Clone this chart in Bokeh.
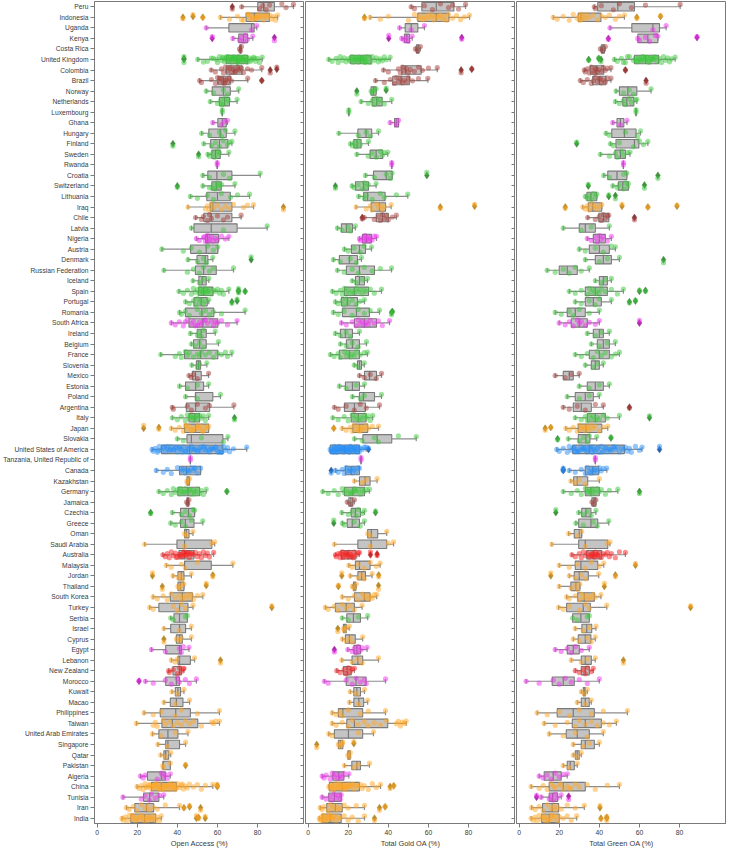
from bokeh.plotting import figure
from bokeh.layouts import row
from bokeh.models import Range1d, FixedTicker, LinearAxis, ColumnDataSource
from bokeh.embed import file_html
from bokeh.resources import INLINE

COUNTRIES = ["Peru", "Indonesia", "Uganda", "Kenya", "Costa Rica", "United Kingdom", "Colombia", "Brazil",
             "Norway", "Netherlands", "Luxembourg", "Ghana", "Hungary", "Finland", "Sweden", "Rwanda",
             "Croatia", "Switzerland", "Lithuania", "Iraq", "Chile", "Latvia", "Nigeria", "Austria",
             "Denmark", "Russian Federation", "Iceland", "Spain", "Portugal", "Romania", "South Africa",
             "Ireland", "Belgium", "France", "Slovenia", "Mexico", "Estonia", "Poland", "Argentina",
             "Italy", "Japan", "Slovakia", "United States of America", "Tanzania, United Republic of",
             "Canada", "Kazakhstan", "Germany", "Jamaica", "Czechia", "Greece", "Oman", "Saudi Arabia",
             "Australia", "Malaysia", "Jordan", "Thailand", "South Korea", "Turkey", "Serbia", "Israel",
             "Cyprus", "Egypt", "Lebanon", "New Zealand", "Morocco", "Kuwait", "Macao", "Philippines",
             "Taiwan", "United Arab Emirates", "Singapore", "Qatar", "Pakistan", "Algeria", "China",
             "Tunisia", "Iran", "India"]

REGION = ["LA", "AS", "AF", "AF", "LA", "EU", "LA", "LA",
          "EU", "EU", "EU", "AF", "EU", "EU", "EU", "AF",
          "EU", "EU", "EU", "AS", "LA", "EU", "AF", "EU",
          "EU", "EU", "EU", "EU", "EU", "EU", "AF",
          "EU", "EU", "EU", "EU", "LA", "EU", "EU", "LA",
          "EU", "AS", "EU", "NA", "AF",
          "NA", "AS", "EU", "LA", "EU", "EU", "AS", "AS",
          "OC", "AS", "AS", "AS", "AS", "AS", "EU", "AS",
          "AS", "AF", "AS", "OC", "AF", "AS", "AS", "AS",
          "AS", "AS", "AS", "AS", "AS", "AF", "AS",
          "AF", "AS", "AS"]

# ---------------- Open Access (%) ----------------
# (lower whisker, q1, median, q3, upper whisker)
OA_BOX = [(72.1, 80.1, 83.0, 88.4, 97.9), (61.5, 74.3, 78.5, 85.9, 90.0), (54.4, 65.7, 77.0, 78.3, 79.6),
          (67.7, 70.6, 73.0, 75.1, 77.6), (71.0, 71.2, 71.5, 71.8, 72.0), (50.2, 64.4, 69.7, 75.1, 82.3),
          (56.9, 64.4, 68.2, 72.3, 82.1), (51.1, 60.2, 63.0, 66.4, 75.1), (54.4, 57.4, 63.0, 66.4, 70.6),
          (56.4, 61.0, 63.5, 66.0, 69.8), (62.4, 62.4, 62.4, 62.4, 62.4), (57.7, 60.2, 62.4, 64.4, 65.0),
          (52.1, 55.7, 61.4, 64.4, 68.7), (53.2, 56.6, 61.0, 65.2, 67.2), (55.2, 57.2, 59.0, 61.4, 65.7),
          (59.9, 59.9, 59.9, 59.9, 59.9), (52.7, 55.2, 59.7, 67.2, 81.3), (52.7, 57.2, 59.4, 61.9, 68.7),
          (46.5, 54.7, 60.0, 66.4, 76.0), (45.3, 56.4, 57.7, 67.2, 78.0), (49.1, 53.2, 56.9, 67.2, 71.8),
          (47.0, 48.3, 56.9, 69.8, 84.8), (49.5, 54.1, 55.0, 60.5, 65.7), (32.3, 46.6, 54.4, 60.2, 60.2),
          (45.3, 49.8, 53.9, 55.2, 57.7), (33.3, 49.0, 53.1, 59.4, 68.0), (47.8, 50.7, 52.4, 54.4, 55.7),
          (40.8, 50.6, 53.1, 57.7, 65.7), (44.1, 48.3, 51.9, 54.9, 55.7), (41.1, 44.0, 52.2, 58.2, 73.8),
          (37.0, 45.8, 52.7, 60.2, 69.8), (46.5, 49.9, 51.9, 54.4, 58.9), (47.0, 48.1, 51.1, 54.4, 60.5),
          (31.7, 43.6, 51.6, 60.2, 67.2), (47.2, 49.5, 50.6, 51.6, 54.7), (45.8, 47.5, 49.1, 51.9, 55.6),
          (41.1, 44.1, 49.1, 53.1, 55.6), (44.1, 49.0, 49.1, 57.7, 61.5), (37.5, 44.5, 49.1, 56.1, 68.2),
          (37.5, 45.8, 48.6, 51.1, 55.6), (37.0, 43.6, 49.1, 55.6, 55.6), (40.0, 44.8, 47.0, 62.7, 65.2),
          (27.4, 32.0, 46.1, 62.7, 74.6), (46.5, 46.5, 46.5, 46.5, 46.5), (29.5, 41.1, 44.5, 51.6, 51.6),
          (44.8, 44.8, 45.3, 46.1, 46.1), (30.8, 40.3, 45.3, 51.1, 54.4), (44.6, 44.8, 45.2, 45.6, 45.8),
          (37.5, 41.6, 45.6, 48.6, 48.6), (36.7, 41.6, 44.0, 48.3, 52.7), (43.6, 43.6, 44.5, 45.8, 47.8),
          (23.7, 39.8, 43.6, 57.2, 58.6), (32.8, 40.8, 43.6, 48.3, 58.1), (34.5, 43.6, 43.6, 56.9, 67.7),
          (37.8, 40.3, 42.0, 43.3, 47.0), (40.3, 40.3, 41.5, 43.3, 43.3), (27.9, 36.5, 42.5, 47.5, 52.7),
          (26.2, 30.8, 41.1, 45.3, 47.8), (36.7, 38.3, 41.1, 45.0, 45.0), (33.3, 36.7, 41.1, 44.1, 47.0),
          (39.5, 39.5, 41.1, 42.5, 47.0), (27.1, 34.2, 41.1, 42.0, 45.8), (37.0, 40.3, 41.1, 46.5, 48.6),
          (35.7, 37.8, 41.1, 42.0, 43.3), (24.1, 34.2, 39.5, 41.1, 49.5), (37.3, 39.0, 40.3, 41.6, 43.3),
          (33.3, 36.5, 39.5, 42.8, 46.1), (23.4, 31.5, 39.2, 46.5, 61.0), (19.6, 32.3, 37.5, 50.2, 61.0),
          (27.6, 30.8, 35.3, 40.3, 45.3), (30.3, 34.2, 35.3, 41.1, 44.1), (31.7, 33.3, 34.2, 35.7, 36.7),
          (32.8, 32.8, 33.0, 36.5, 36.5), (21.6, 25.1, 32.0, 34.0, 36.5), (19.9, 27.1, 32.0, 39.5, 57.7),
          (12.9, 23.2, 26.2, 30.8, 33.2), (14.6, 18.8, 24.6, 28.2, 41.1), (12.4, 16.8, 23.7, 29.2, 32.0)]

OA_OUT = [[67.4], [42.8, 47.8, 52.7], [], [57.4, 88.4], [], [43.3, 43.3], [86.3, 89.6], [82.1],
          [], [], [], [], [], [37.8], [50.6], [],
          [], [40.0], [], [92.9], [], [], [], [],
          [76.8], [], [], [70.5, 70.5, 73.8], [67.2, 69.8], [], [],
          [], [], [], [], [], [], [], [],
          [68.5], [23.2, 30.8], [], [], [],
          [], [], [64.7], [], [26.7], [], [], [],
          [], [], [27.6, 57.7], [32.5, 54.4], [], [87.1], [], [],
          [33.3], [], [61.5], [], [20.9], [], [], [],
          [], [], [], [], [44.1], [], [59.9, 59.9],
          [], [43.3, 46.1, 51.6], [49.5, 50.6, 53.9]]

OA_PTS = [[81, 82.6, 84.3, 92.1, 94.2, 86],
          [66, 70, 73, 75, 76, 77, 77.5, 78, 79, 80, 81, 82, 83, 84, 85, 86, 87, 88, 89, 75.5, 79.5, 83.5, 72, 80.5],
          [77],
          [71, 72, 73, 74, 75],
          [71.5],
          [55, 58, 60, 61, 62, 63, 63.5, 64, 65, 65.5, 66, 66.5, 67, 67.5, 68, 68.5, 69, 69.5, 70, 70.5, 71, 71.5,
           72, 72.5, 73, 73.5, 74, 74.5, 75, 76, 77, 78, 79, 80, 81, 64.5, 66.2, 68.2, 70.2, 72.2, 74.2, 67.8,
           69.8, 71.8, 53, 57, 59.5, 62.5, 76.5, 78.5],
          [59, 62, 63, 64, 65, 66, 67, 68, 69, 70, 71, 72, 73, 75, 77, 66.5, 68.8, 70.5],
          [52, 57, 59, 60, 61, 62, 63, 64, 65, 66, 67, 61.5, 63.5, 64.5],
          [58, 63, 65],
          [60, 61.5, 62.5, 63.5, 64.5, 65.5, 62],
          [],
          [62, 63.5],
          [56, 61, 62, 64],
          [57, 59, 61, 63, 65, 66],
          [56, 57.5, 58.5, 59.5, 60.5, 61],
          [],
          [56, 63, 66],
          [56, 58, 59, 60, 61, 62, 57.5, 60.5],
          [50, 55, 58, 62, 66.5, 70],
          [54, 55, 56, 57, 58, 60, 62, 64, 66, 68, 73, 75],
          [52, 53, 55, 56, 57, 60, 63, 65],
          [63],
          [51, 53, 54, 55, 56, 57, 58, 59, 60, 62, 64, 53.5, 55.5],
          [43, 47, 51, 55, 58],
          [50, 53, 54.5],
          [45, 48, 51, 53, 56, 58],
          [51, 53],
          [43, 45, 47, 48, 49, 50, 51, 52, 53, 54, 55, 56, 57, 58, 59, 60, 61, 62, 63, 51.5, 52.5, 53.5, 54.5, 55.5],
          [46, 48, 49, 50, 51, 52, 53, 54],
          [42, 44, 46, 50, 52, 54, 56, 58, 62],
          [39, 41, 43, 45, 47, 48, 50, 51, 52, 53, 55, 57, 58, 59, 60, 62, 65, 44, 49, 54],
          [50, 51, 52, 53],
          [49, 51, 53],
          [39, 41, 42, 44, 45, 46, 48, 50, 51, 52, 54, 56, 58, 60, 62, 64, 65],
          [50, 51],
          [47, 48, 50],
          [45, 50],
          [50],
          [38, 45, 47, 50, 54, 56],
          [40, 42, 44, 45, 46, 47, 48, 49, 50, 51, 52, 53, 54, 46.5, 48.2, 49.5],
          [39, 41, 43, 44, 45, 46, 47, 48, 49, 50, 51, 52, 53, 54, 55, 44.5, 47.5, 50.5, 52.5],
          [43, 52, 63],
          [28, 29, 30, 31, 32, 33, 34, 35, 36, 37, 38, 39, 40, 41, 42, 43, 44, 45, 46, 47, 48, 49, 50, 51, 52, 53,
           54, 55, 56, 57, 58, 59, 60, 61, 62, 63, 64, 65, 66, 68, 30.5, 33.5, 36.5, 39.5, 42.5, 45.5, 48.5, 51.5,
           54.5, 57.5, 60.5, 35.2, 38.2, 41.2, 44.2, 47.2, 50.2, 53.2, 56.2, 59.2, 62.2],
          [],
          [33, 35, 37, 40, 42, 43, 44, 45, 46, 47, 48, 49, 50, 42.5, 45.5, 48.5],
          [45],
          [33, 35, 37, 38, 39, 40, 41, 42, 43, 44, 45, 46, 47, 48, 49, 50, 51, 52, 53, 41.5, 43.5, 46.5, 48.5],
          [45.2],
          [42, 44, 46, 48],
          [39, 42, 44, 47],
          [44.5],
          [43.6, 57],
          [34, 35, 36, 37, 38, 39, 40, 41, 42, 43, 44, 45, 46, 47, 48, 49, 50, 51, 52, 53, 54, 55, 56, 41.5, 42.5,
           43.5, 44.5, 45.5, 39.5, 46.5],
          [37, 42, 44, 50],
          [40.5, 41.5, 42.5],
          [41, 42],
          [30, 33, 35, 37, 39, 41, 42, 43, 44, 45, 46, 47, 48, 50],
          [28, 38, 40, 42, 44],
          [38, 44],
          [41],
          [41, 42],
          [34, 41, 42, 43],
          [39, 40],
          [36, 38, 40, 41, 42, 43],
          [28, 34, 37, 40, 41, 44, 46],
          [40],
          [39],
          [28, 32, 39, 42, 50],
          [28, 29, 30, 33, 34, 36, 38, 40, 42, 44, 46, 48, 52, 57, 58, 59],
          [32, 39],
          [35],
          [34],
          [33],
          [23, 24, 30, 32, 33, 34, 35],
          [21, 22, 23, 24, 25, 26, 27, 28, 29, 30, 31, 32, 33, 34, 35, 36, 37, 38, 39, 40, 41, 42, 43, 44, 45, 46,
           48, 50, 52, 54, 27.5, 29.5, 31.5, 33.5, 35.5, 37.5, 39.5, 26.5, 30.5, 34.5, 38.5, 42.5, 24.5, 28.5,
           32.5, 36.5],
          [22, 24, 26, 27, 29, 31],
          [16, 18, 20, 22, 24, 25, 26, 28, 30, 34],
          [13, 14, 15, 16, 17, 18, 19, 20, 21, 22, 23, 24, 25, 26, 27, 28, 29, 30, 31, 17.5, 19.5, 21.5, 23.5,
           25.5, 27.5]]

# ---------------- Total Gold OA (%) ----------------
GOLD_BOX = [(51.4, 56.7, 63.9, 72.7, 78.5), (30.9, 54.7, 63.9, 70.2, 80.5), (45.6, 48.4, 51.4, 54.7, 58.0),
            (46.7, 48.0, 49.2, 50.5, 51.9), (53.5, 54.0, 54.7, 55.3, 56.0), (10.3, 21.0, 26.1, 31.4, 40.9),
            (37.6, 46.7, 48.6, 56.4, 64.4), (33.6, 42.2, 46.4, 50.5, 59.7), (31.4, 31.4, 32.6, 33.9, 33.9),
            (26.4, 31.9, 34.2, 36.9, 41.7), (20.3, 20.3, 20.3, 20.3, 20.3), (40.9, 43.1, 43.9, 45.1, 45.1),
            (15.3, 24.8, 28.9, 31.7, 35.1), (21.1, 22.8, 24.4, 26.4, 30.1), (24.3, 30.9, 33.9, 37.2, 39.7),
            (41.7, 41.7, 41.7, 41.7, 41.7), (28.6, 32.6, 38.9, 41.9, 41.9), (21.9, 23.6, 27.6, 30.1, 33.9),
            (25.2, 27.7, 29.7, 38.4, 49.7), (23.9, 31.4, 35.6, 38.6, 41.4), (28.0, 34.0, 37.0, 40.0, 44.0),
            (14.6, 16.6, 19.1, 22.1, 23.6), (25.6, 27.1, 29.1, 31.6, 34.1), (18.1, 21.6, 25.6, 28.6, 31.6),
            (12.6, 15.6, 20.6, 24.6, 26.6), (14.6, 19.1, 25.6, 33.1, 41.6), (22.0, 23.6, 25.6, 28.1, 29.6),
            (12.1, 18.1, 23.1, 30.1, 36.6), (13.6, 16.6, 19.6, 24.6, 28.1), (12.6, 17.1, 24.1, 30.6, 35.6),
            (16.6, 23.1, 28.1, 34.1, 40.6), (13.6, 16.1, 18.6, 22.1, 25.6), (16.1, 19.1, 22.1, 25.6, 29.1),
            (11.1, 15.6, 20.6, 25.6, 29.6), (23.0, 24.6, 25.6, 26.6, 28.0), (25.6, 28.1, 30.6, 34.1, 36.6),
            (15.6, 18.6, 22.1, 25.6, 28.1), (22.1, 25.6, 27.6, 33.1, 36.6), (13.1, 18.1, 23.1, 28.6, 35.6),
            (12.3, 21.5, 25.0, 28.9, 32.2), (17.0, 22.3, 25.6, 29.7, 35.1), (23.1, 27.3, 34.4, 41.7, 53.9),
            (11.0, 11.0, 18.1, 25.6, 28.9), (26.4, 26.4, 26.4, 26.4, 26.4), (13.6, 18.6, 21.5, 25.6, 25.6),
            (23.1, 25.6, 28.4, 30.9, 34.4), (7.3, 18.1, 22.3, 28.1, 30.6), (19.5, 20.3, 21.3, 22.3, 23.1),
            (16.8, 21.5, 23.6, 26.1, 28.1), (17.1, 19.5, 22.0, 25.6, 28.1), (29.7, 29.7, 31.5, 34.7, 39.2),
            (13.1, 24.8, 31.4, 39.2, 42.6), (13.6, 16.5, 19.8, 23.9, 25.6), (20.3, 23.6, 25.6, 30.9, 35.9),
            (21.0, 24.8, 26.7, 28.6, 31.9), (22.0, 22.6, 23.0, 23.8, 24.0), (17.0, 23.1, 28.1, 30.9, 34.2),
            (8.6, 13.6, 19.0, 23.1, 26.9), (17.0, 19.3, 22.6, 26.1, 29.7), (17.6, 17.6, 18.3, 19.0, 20.5),
            (17.1, 18.6, 20.6, 23.5, 27.2), (19.8, 22.8, 24.3, 26.1, 29.4), (16.8, 21.9, 24.8, 27.2, 35.1),
            (14.3, 17.6, 19.5, 21.5, 23.1), (8.1, 19.0, 23.9, 28.9, 38.6), (21.0, 22.8, 24.3, 26.1, 28.1),
            (20.6, 22.8, 25.3, 27.7, 29.7), (12.0, 15.1, 17.3, 27.2, 38.6), (12.0, 19.3, 23.1, 39.7, 48.9),
            (10.3, 13.1, 20.1, 27.2, 32.6), (15.1, 15.1, 16.1, 17.3, 17.3), (19.8, 19.8, 20.3, 21.0, 21.0),
            (18.1, 21.8, 24.3, 26.1, 30.6), (7.0, 12.3, 15.3, 17.8, 20.3), (10.3, 10.6, 17.0, 25.6, 36.1),
            (7.0, 10.3, 13.1, 16.5, 16.5), (6.0, 9.3, 13.6, 17.0, 28.1), (5.6, 7.0, 11.0, 16.5, 28.1)]

GOLD_OUT = [[], [28.1], [], [40.2, 76.6], [], [], [76.3, 81.6], [],
            [24.3, 38.9], [], [], [], [], [], [], [],
            [59.2], [13.6], [], [65.9, 83.0], [27.0], [], [], [],
            [], [], [], [], [], [41.6, 42.0], [],
            [], [], [], [], [], [], [], [],
            [], [12.8], [], [30.1], [],
            [11.5], [], [], [], [33.6], [12.8], [], [],
            [31.1, 34.4], [], [16.8, 35.2], [15.1, 35.1], [], [], [], [14.8],
            [], [13.1], [], [], [], [], [], [],
            [], [], [4.3, 22.8], [], [], [], [40.9, 42.7],
            [], [35.6, 38.4], [33.1]]

GOLD_PTS = [[53, 58, 62, 66, 70, 72, 75],
            [36, 40, 50, 53, 55, 56, 57, 58, 59, 60, 61, 62, 63, 64, 65, 66, 67, 68, 69, 70, 72, 74, 76, 78],
            [51.4],
            [48, 49, 50],
            [54.7],
            [12, 14, 15, 16, 17, 18, 19, 20, 21, 22, 23, 24, 25, 26, 27, 28, 29, 30, 31, 32, 33, 34, 35, 36, 37,
             38, 39, 21.5, 22.5, 23.5, 24.5, 25.5, 26.5, 27.5, 28.5, 29.5, 24.2, 26.8, 28.2],
            [40, 45, 46, 47, 48, 49, 50, 51, 53, 55, 57, 60],
            [38, 41, 43, 44, 45, 46, 47, 48, 49, 50, 52, 55],
            [32, 33],
            [30, 32, 33, 34, 35, 36, 38],
            [],
            [44],
            [25, 29, 31],
            [22, 23, 24, 25, 26],
            [30, 32, 34, 36, 37, 38],
            [],
            [33, 39, 41],
            [23, 25, 27, 28, 29, 30],
            [28, 29, 32, 36, 38, 44],
            [29, 31, 32, 34, 35, 36, 37, 38],
            [33, 35, 36, 37, 38, 39, 40, 42],
            [17, 20, 21],
            [26, 27.5, 28, 28.5, 29, 30, 30.5, 31, 32, 33],
            [20, 23, 26, 28],
            [16, 21, 24],
            [18, 22, 25, 28, 32, 36],
            [24, 27],
            [14, 16, 17, 18, 19, 20, 21, 22, 23, 24, 25, 26, 27, 28, 29, 31, 33],
            [15, 17, 18, 19, 20, 22, 24, 26],
            [15, 18, 22, 25, 28, 31],
            [19, 22, 24, 25, 26, 27, 28, 29, 30, 31, 33, 35, 37],
            [16, 19, 21],
            [19, 22, 25],
            [13, 15, 16, 18, 19, 20, 21, 22, 23, 24, 26, 28],
            [25],
            [28, 31, 34],
            [19, 24],
            [26, 28],
            [15, 19, 23, 26, 29],
            [15, 18, 20, 22, 23, 24, 25, 26, 27, 28, 29, 30, 31],
            [19, 21, 22, 23, 24, 25, 26, 27, 28, 29, 30, 32, 25.2, 26.5],
            [27, 33, 35, 45],
            [11.5, 12, 12.5, 13, 13.5, 14, 14.5, 15, 15.5, 16, 16.5, 17, 17.5, 18, 18.5, 19, 19.5, 20, 20.5, 21,
             21.5, 22, 22.5, 23, 23.5, 24, 24.5, 25, 25.5, 26, 27, 28, 12.2, 13.2, 14.2, 15.2, 16.2, 17.2, 18.2,
             19.2, 20.2, 21.2, 22.2, 23.2, 24.2],
            [],
            [15, 17, 18, 19, 20, 21, 22, 23, 24, 25, 20.5, 22.5],
            [27, 29],
            [10, 13, 15, 17, 18, 19, 20, 21, 22, 23, 24, 25, 26, 27, 28, 29, 21.5, 23.5],
            [21.3],
            [20, 22, 24, 25, 27],
            [18, 23, 26],
            [31],
            [31, 40],
            [14, 15, 16, 17, 18, 19, 20, 21, 22, 23, 24, 25, 17.5, 18.5, 19.5, 20.5, 21.5, 16.2, 22.5],
            [22, 25, 28, 31, 34],
            [25, 27, 28],
            [23],
            [20, 23, 25, 27, 28, 29, 30, 31, 32, 33],
            [10, 13, 15, 17, 19, 21, 23],
            [20, 25],
            [18, 19],
            [19, 21, 22],
            [22, 23, 24, 25, 26, 27],
            [22, 25, 27],
            [16, 18, 19, 20, 21, 22],
            [10, 19, 22, 24, 26, 28, 29],
            [24],
            [25],
            [14, 16, 17, 20, 26, 30],
            [14, 17, 20, 22, 25, 28, 30, 33, 36, 39, 44, 45, 46, 47, 48],
            [12, 25],
            [16, 17],
            [20.5],
            [23, 25],
            [8, 9, 11, 12, 13, 14, 15, 16, 17, 18],
            [11, 12, 13, 14, 15, 16, 17, 18, 19, 20, 21, 22, 23, 24, 25, 26, 27, 28, 30, 32, 34, 11.5, 12.5, 13.5,
             14.5, 15.5, 16.5, 17.5, 18.5, 19.5, 20.5, 22.5],
            [9, 11, 12, 13, 14, 15, 16],
            [7, 8, 10, 11, 12, 13, 14, 15, 16, 18, 20, 24],
            [6, 6.5, 7, 7.5, 8, 8.5, 9, 9.5, 10, 11, 12, 13, 14, 15, 16, 18, 20, 22, 25, 10.5, 11.5, 12.5]]

# ---------------- Total Green OA (%) ----------------
GREEN_BOX = [(37.5, 39.2, 49.2, 57.5, 80.3), (17.0, 29.5, 30.8, 40.8, 52.5), (45.3, 56.2, 66.7, 70.0, 73.3),
             (59.2, 59.2, 64.2, 69.2, 69.2), (40.5, 41.0, 41.7, 42.5, 43.0), (47.5, 57.5, 63.0, 69.5, 77.8),
             (32.5, 35.5, 38.7, 42.2, 45.8), (30.5, 36.7, 40.0, 43.3, 45.8), (48.3, 50.0, 54.2, 58.7, 65.8),
             (48.0, 51.7, 53.7, 57.2, 58.7), (58.3, 58.3, 58.3, 58.3, 58.3), (46.7, 48.8, 50.5, 52.2, 53.8),
             (43.3, 46.2, 52.5, 58.3, 60.5), (45.5, 48.3, 57.5, 59.7, 64.2), (40.5, 47.8, 50.5, 53.0, 55.3),
             (52.0, 52.0, 52.0, 52.0, 52.0), (42.2, 44.2, 48.8, 53.7, 53.7), (46.7, 49.5, 51.7, 54.5, 54.5),
             (33.0, 33.8, 35.8, 38.7, 38.7), (31.7, 34.5, 36.7, 41.2, 41.2), (34.2, 39.7, 42.0, 44.7, 44.7),
             (22.0, 30.0, 33.0, 38.0, 45.0), (34.0, 37.0, 40.0, 43.0, 46.0), (30.0, 35.0, 40.0, 45.0, 48.0),
             (33.0, 38.0, 42.0, 46.0, 50.0), (14.0, 20.0, 24.0, 29.0, 35.0), (38.0, 40.0, 42.0, 44.0, 46.0),
             (25.0, 33.0, 38.0, 44.0, 52.0), (28.0, 33.0, 37.0, 41.0, 46.0), (18.0, 24.0, 28.0, 33.0, 40.0),
             (20.0, 26.0, 30.0, 34.0, 40.0), (34.0, 37.0, 40.0, 42.0, 45.0), (36.0, 39.0, 42.0, 45.0, 48.0),
             (28.0, 35.0, 40.0, 45.0, 50.0), (33.0, 36.0, 38.0, 40.0, 42.0), (18.0, 22.0, 25.0, 27.0, 30.0),
             (30.0, 34.0, 38.0, 42.0, 45.0), (24.0, 28.0, 33.0, 37.0, 40.0), (22.0, 27.0, 31.0, 36.0, 42.0),
             (28.0, 34.0, 38.0, 43.0, 50.0), (23.3, 29.5, 33.3, 41.2, 44.2), (24.5, 29.5, 33.3, 35.3, 38.7),
             (18.8, 26.7, 35.0, 52.5, 61.3), (38.0, 38.0, 38.0, 38.0, 38.0), (25.0, 33.0, 36.7, 39.7, 43.7),
             (25.8, 27.2, 29.0, 34.2, 40.0), (22.0, 33.0, 35.8, 40.0, 49.2), (36.3, 36.3, 37.3, 38.3, 38.3),
             (29.7, 31.2, 33.3, 35.8, 38.3), (28.3, 29.7, 35.8, 39.2, 44.7), (24.7, 27.5, 30.0, 31.2, 31.2),
             (16.3, 29.7, 33.0, 44.2, 45.3), (26.3, 33.7, 37.0, 41.2, 53.0), (20.0, 28.0, 30.8, 39.2, 42.2),
             (25.0, 27.5, 30.0, 34.5, 39.7), (20.0, 25.8, 28.3, 30.3, 30.3), (23.7, 29.2, 32.5, 37.5, 40.8),
             (19.7, 23.7, 32.0, 35.5, 43.7), (26.7, 26.7, 30.8, 35.0, 35.0), (28.0, 31.3, 33.7, 36.2, 38.3),
             (27.0, 29.5, 33.0, 35.8, 38.0), (18.0, 24.0, 27.0, 30.0, 35.0), (26.0, 31.0, 33.0, 36.0, 38.0),
             (28.0, 31.0, 33.0, 35.0, 37.0), (3.5, 16.5, 22.0, 27.5, 40.0), (31.0, 32.0, 32.5, 33.0, 34.0),
             (29.0, 31.0, 33.0, 35.0, 36.0), (9.0, 19.0, 27.0, 37.5, 54.0), (12.5, 26.5, 33.0, 41.0, 48.5),
             (15.0, 23.5, 29.0, 35.0, 42.0), (27.0, 31.0, 33.0, 37.5, 40.0), (27.0, 28.0, 29.0, 30.0, 31.0),
             (22.0, 24.0, 25.5, 27.5, 29.0), (10.0, 12.5, 17.0, 21.0, 24.0), (6.0, 15.0, 22.0, 33.0, 50.0),
             (11.0, 15.0, 16.7, 19.2, 21.0), (6.2, 11.7, 16.5, 19.7, 32.5), (6.0, 11.2, 15.0, 20.0, 28.7)]

GREEN_OUT = [[], [58.7, 70.5], [], [44.5, 88.7], [], [34.7, 39.7, 40.8], [53.0], [63.3],
             [], [], [], [], [], [28.7], [], [],
             [69.2], [34.5, 62.5], [44.7, 48.0], [23.0, 51.3, 64.2, 78.7], [57.5], [], [], [],
             [72.0], [], [], [60.0, 63.0], [55.0, 58.0], [], [60.0],
             [], [], [], [], [], [], [], [55.0],
             [65.0], [13.0, 15.8], [19.2, 45.8], [70.0], [],
             [22.0, 22.0], [], [60.0], [], [18.3], [], [], [],
             [], [58.0], [15.8, 48.0], [42.5], [], [85.5], [], [],
             [], [], [52.0], [], [], [], [], [],
             [], [], [], [], [], [], [],
             [8.7, 24.7], [40.3], [40.8, 43.7, 43.7]]

GREEN_PTS = [[38, 41, 47, 50, 56, 63],
             [19, 22, 25, 27, 29, 30, 31, 32, 33, 34, 35, 37, 39, 41, 43, 45, 48, 50, 30.2, 31.5],
             [66.7],
             [60, 63, 65, 68],
             [41.7],
             [49, 51, 53, 55, 57, 58, 59, 60, 61, 62, 63, 64, 65, 66, 67, 68, 69, 70, 71, 72, 73, 74, 75, 76, 60.5,
              61.5, 62.5, 63.5, 64.5, 65.5, 66.5, 67.5, 58.5, 59.5, 52, 54],
             [33, 34, 35, 36, 37, 38, 39, 40, 41, 42, 43, 44, 37.5, 38.5],
             [32, 34, 36, 38, 39, 40, 41, 42, 43, 44, 37, 40.5],
             [52, 55, 57],
             [50, 52, 53, 55, 56, 58],
             [],
             [50.5],
             [45, 53, 59],
             [47, 50, 57, 60, 62],
             [45, 48, 49, 51, 52, 54],
             [],
             [45, 52],
             [49, 50, 52, 53, 54],
             [34, 35, 36, 37, 38],
             [33, 34, 35, 36, 37, 38, 39, 40],
             [38, 40, 41, 42, 43, 44],
             [31, 36],
             [36, 38, 39, 40, 41, 42, 44],
             [33, 38, 42, 46],
             [40, 44],
             [18, 22, 25, 28, 31],
             [41, 43],
             [28, 31, 34, 35, 36, 37, 38, 39, 40, 41, 43, 46, 49],
             [31, 35, 38, 40],
             [21, 25, 27, 30, 35],
             [23, 25, 27, 29, 30, 31, 33, 35, 38],
             [38, 41],
             [40, 44],
             [31, 34, 37, 39, 41, 43, 46, 48],
             [37, 39],
             [23, 26],
             [35, 40],
             [30, 35],
             [25, 29, 33, 38],
             [31, 33, 34, 35, 36, 37, 38, 39, 40, 42, 44],
             [25, 27, 29, 30, 31, 32, 33, 34, 35, 36, 37, 38, 40, 42, 31.5, 33.8],
             [30, 32, 34, 35],
             [20, 22, 24, 25, 26, 27, 28, 29, 30, 31, 32, 33, 34, 35, 36, 37, 38, 39, 40, 41, 42, 43, 44, 45, 46, 47,
              48, 49, 50, 51, 52, 53, 54, 55, 56, 58, 60, 27.5, 29.5, 31.5, 33.5, 35.5, 37.5, 39.5, 41.5, 43.5,
              45.5, 47.5, 28.5, 32.5, 36.5],
             [],
             [28, 31, 33, 34, 35, 36, 37, 38, 39, 40, 41, 42, 35.5, 37.5],
             [28, 30, 33],
             [26, 29, 31, 33, 34, 35, 36, 37, 38, 39, 40, 41, 43, 45, 34.5, 36.5],
             [37.3],
             [32, 34, 36],
             [32, 37, 39],
             [29],
             [33, 44],
             [28, 30, 31, 32, 33, 34, 35, 36, 37, 38, 39, 40, 41, 42, 43, 44, 45, 46, 48, 50, 35.5, 36.5, 37.5,
              38.5, 39.5],
             [25, 29, 33, 36, 40],
             [28, 31, 33],
             [26, 28, 29],
             [25, 28, 30, 31, 32, 33, 34, 35, 36, 37, 38],
             [22, 25, 30, 33, 35],
             [29, 34],
             [32, 35],
             [30, 34, 36],
             [21, 24, 26, 28, 31],
             [31, 34],
             [30, 32, 33, 34, 36],
             [10, 17, 20, 23, 26, 30, 34],
             [32.5],
             [33],
             [14, 20, 25, 30, 36, 42],
             [18, 24, 28, 30, 33, 36, 39, 42, 45],
             [22, 28, 34],
             [32, 35],
             [29],
             [25],
             [12, 14, 16, 18, 20, 22],
             [10, 12, 14, 16, 18, 20, 22, 24, 26, 28, 30, 34, 38, 44, 17, 21, 25],
             [15, 16, 17, 18, 19],
             [8, 10, 12, 14, 16, 17, 18, 19, 21, 24, 28],
             [7, 8, 9, 10, 11, 12, 13, 14, 15, 16, 17, 18, 19, 20, 22, 24, 26, 12.5, 14.5, 16.5]]

XTICKS = [0, 20, 40, 60, 80]
XLIM = (-1.3, 103.4)
XLABELS = ["Open Access (%)", "Total Gold OA (%)", "Total Green OA (%)"]

PT_COL = {"EU": "#3cc83c", "AS": "#ffa520", "AF": "#f030f0", "LA": "#a8403c", "NA": "#2890f8", "OC": "#f82020"}
OUT_COL = {"EU": "#3f8f3f", "AS": "#b88a2a", "AF": "#a82aa8", "LA": "#8a3838", "NA": "#2c62a8", "OC": "#c02a2a"}
JIT = [0.0, 0.22, -0.18, 0.1, -0.28, 0.28, -0.08, 0.16, -0.22, 0.05, -0.13, 0.25, -0.03, 0.19, -0.25, 0.12]

FONT = "Liberation Sans"
TXT = "#3a3a3a"
EDGE = "#7a7a7a"
FRAME_W = 210
FRAME_H = 822

n = len(COUNTRIES)
ypos = [n - 1 - i for i in range(n)]
YLABELS = {ypos[i]: COUNTRIES[i] for i in range(n)}


def make_panel(box, outl, pts, xlabel, first):
    p = figure(frame_width=FRAME_W, frame_height=FRAME_H,
               x_range=Range1d(*XLIM), y_range=Range1d(-0.5, n - 0.5),
               output_backend="svg", toolbar_location=None,
               y_axis_location="left" if first else None,
               min_border_left=0 if first else 1, min_border_right=0, min_border_top=1, min_border_bottom=0)
    p.xgrid.visible = False
    p.ygrid.visible = False
    p.outline_line_color = EDGE
    p.outline_line_width = 1
    p.background_fill_color = "white"

    wlo = [b[0] for b in box]
    q1 = [b[1] for b in box]
    med = [b[2] for b in box]
    q3 = [b[3] for b in box]
    whi = [b[4] for b in box]
    src = ColumnDataSource(dict(y=ypos, wlo=wlo, q1=q1, med=med, q3=q3, whi=whi,
                                ylo=[y - 0.4 for y in ypos], yhi=[y + 0.4 for y in ypos],
                                clo=[y - 0.22 for y in ypos], chi=[y + 0.22 for y in ypos]))
    p.segment(x0="wlo", y0="y", x1="q1", y1="y", source=src, line_color="#8c8c8c", line_width=1.2)
    p.segment(x0="q3", y0="y", x1="whi", y1="y", source=src, line_color="#8c8c8c", line_width=1.2)
    p.segment(x0="wlo", y0="clo", x1="wlo", y1="chi", source=src, line_color="#8c8c8c", line_width=1.2)
    p.segment(x0="whi", y0="clo", x1="whi", y1="chi", source=src, line_color="#8c8c8c", line_width=1.2)
    p.hbar(y="y", left="q1", right="q3", height=0.8, source=src,
           fill_color="#c4c4c4", line_color=EDGE, line_width=1.1)
    p.segment(x0="med", y0="ylo", x1="med", y1="yhi", source=src, line_color=EDGE, line_width=1.2)

    ox, oy, oc = [], [], []
    for i in range(n):
        for k, v in enumerate(outl[i]):
            ox.append(v)
            oy.append(ypos[i] + (0.08 if k % 2 else 0.0))
            oc.append(OUT_COL[REGION[i]])
    p.scatter(x=ox, y=oy, marker="diamond", size=7, fill_color=oc, line_color=oc, line_width=0.5)

    px, py, pc = [], [], []
    for i in range(n):
        vals = [box[i][0], box[i][4]] + list(pts[i]) + list(outl[i])
        for j, v in enumerate(vals):
            px.append(v)
            py.append(ypos[i] + JIT[j % len(JIT)])
            pc.append(PT_COL[REGION[i]])
    p.scatter(x=px, y=py, marker="circle", size=5.2, fill_color=pc, fill_alpha=0.5, line_color=None)

    xa = p.xaxis[0]
    xa.ticker = FixedTicker(ticks=XTICKS)
    xa.axis_label = xlabel
    xa.axis_label_text_font = FONT
    xa.axis_label_text_font_size = "7.4px"
    xa.axis_label_text_font_style = "normal"
    xa.axis_label_text_color = TXT
    xa.axis_label_standoff = 1
    xa.major_label_text_font = FONT
    xa.major_label_text_font_size = "6.8px"
    xa.major_label_text_color = TXT
    xa.major_label_standoff = 2
    xa.major_tick_out = 4
    xa.major_tick_in = 0
    xa.minor_tick_out = 0
    xa.minor_tick_in = 0
    xa.axis_line_color = EDGE
    xa.major_tick_line_color = EDGE

    if first:
        ya = p.yaxis[0]
        ya.ticker = FixedTicker(ticks=ypos)
        ya.major_label_overrides = YLABELS
        ya.major_label_text_font = FONT
        ya.major_label_text_font_size = "6.7px"
        ya.major_label_text_color = TXT
        ya.major_label_standoff = 2
        ya.major_tick_out = 4
        ya.major_tick_in = 0
        ya.minor_tick_out = 0
        ya.minor_tick_in = 0
        ya.axis_line_color = EDGE
        ya.major_tick_line_color = EDGE
    return p


def add_shared_ticks(p):
    # the next panel's (shared, unlabelled) category axis: ticks reach into this frame's right edge
    ax = LinearAxis(ticker=FixedTicker(ticks=ypos))
    ax.major_label_overrides = YLABELS
    ax.major_tick_in = 4
    ax.major_tick_out = 0
    ax.minor_tick_in = 0
    ax.minor_tick_out = 0
    ax.major_label_text_font = FONT
    ax.major_label_text_font_size = "0px"
    ax.major_label_standoff = 0
    ax.axis_line_color = EDGE
    ax.major_tick_line_color = EDGE
    p.add_layout(ax, "right")


p1 = make_panel(OA_BOX, OA_OUT, OA_PTS, XLABELS[0], True)
p2 = make_panel(GOLD_BOX, GOLD_OUT, GOLD_PTS, XLABELS[1], False)
p3 = make_panel(GREEN_BOX, GREEN_OUT, GREEN_PTS, XLABELS[2], False)
add_shared_ticks(p1)
add_shared_ticks(p2)

layout = row(p1, p2, p3)
open("out.html", "w").write(file_html(layout, INLINE))
